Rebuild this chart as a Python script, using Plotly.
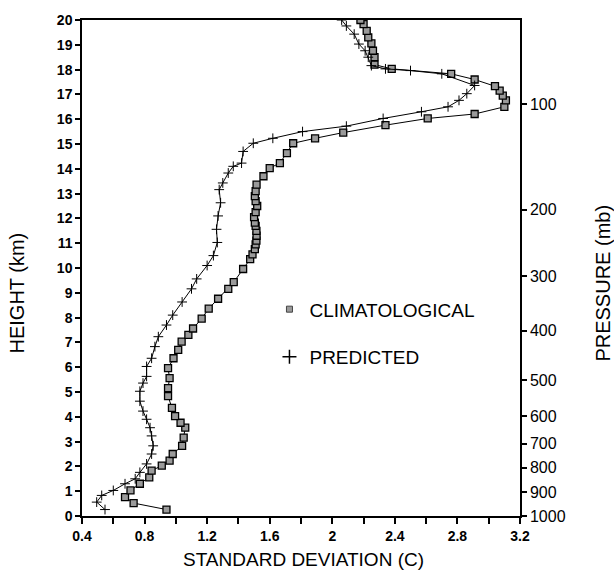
import plotly.graph_objects as go

# Climatological standard deviation (C) vs height (km)
clim_height = [0.26, 0.52, 0.76, 1.03, 1.30, 1.56, 1.83, 2.03, 2.23, 2.50, 2.83, 3.16, 3.56, 3.76,
               4.03, 4.36, 4.83, 5.16, 5.56, 5.96, 6.36, 6.70, 7.03, 7.30, 7.56, 7.96, 8.36, 8.76,
               9.16, 9.43, 9.96, 10.36, 10.55, 10.76, 10.95, 11.10, 11.30, 11.50, 11.70, 11.83,
               12.05, 12.25, 12.50, 12.70, 12.90, 13.10, 13.36, 13.70, 14.03, 14.23, 14.63, 15.03,
               15.23, 15.46, 15.76, 16.03, 16.21, 16.50, 16.76, 16.95, 17.15, 17.33, 17.60, 17.83,
               18.03, 18.20, 18.50, 18.76, 19.06, 19.30, 19.56, 19.83, 20.0]
clim_sd = [0.94, 0.73, 0.675, 0.71, 0.77, 0.83, 0.845, 0.91, 0.96, 0.98, 1.04, 1.05, 1.06, 1.03,
           0.995, 0.975, 0.95, 0.95, 0.96, 0.95, 0.985, 1.015, 1.037, 1.08, 1.11, 1.165, 1.21, 1.27,
           1.335, 1.37, 1.43, 1.475, 1.49, 1.505, 1.51, 1.515, 1.516, 1.515, 1.51, 1.505,
           1.50, 1.51, 1.52, 1.51, 1.505, 1.51, 1.516, 1.56, 1.60, 1.665, 1.71, 1.75,
           1.89, 2.07, 2.34, 2.61, 2.91, 3.10, 3.11, 3.09, 3.07, 3.04, 2.91, 2.76,
           2.38, 2.27, 2.27, 2.26, 2.25, 2.23, 2.22, 2.20, 2.18]

# Predicted standard deviation (C) vs height (km)
pred_height = [0.26, 0.56, 0.83, 1.03, 1.30, 1.50, 1.76, 2.10, 2.50, 2.83, 3.23, 3.56, 3.90, 4.23,
               4.63, 5.03, 5.36, 5.63, 6.03, 6.36, 6.83, 7.23, 7.70, 8.10, 8.63, 9.16, 9.56, 10.10,
               10.50, 11.03, 11.56, 12.10, 12.63, 13.16, 13.43, 13.83, 14.10, 14.23, 14.70, 15.03,
               15.23, 15.50, 15.72, 16.03, 16.30, 16.50, 16.76, 17.03, 17.36, 17.83, 17.96, 18.03,
               18.16, 18.50, 18.76, 19.03, 19.43, 19.76, 20.0]
pred_sd = [0.547, 0.494, 0.526, 0.60, 0.675, 0.74, 0.77, 0.813, 0.845, 0.855, 0.845, 0.835, 0.813, 0.79,
           0.77, 0.77, 0.79, 0.813, 0.813, 0.845, 0.866, 0.888, 0.94, 0.98, 1.04, 1.10, 1.133, 1.20,
           1.24, 1.265, 1.26, 1.27, 1.286, 1.277, 1.30, 1.335, 1.367, 1.42, 1.43, 1.495,
           1.62, 1.81, 2.09, 2.325, 2.57, 2.74, 2.81, 2.86, 2.91, 2.70, 2.50, 2.34,
           2.25, 2.23, 2.21, 2.17, 2.14, 2.09, 2.06]

# Right axis: pressure levels (mb) and their heights (km)
pressure_labels = ["100", "200", "300", "400", "500", "600", "700", "800", "900", "1000"]
pressure_heights = [16.6, 12.35, 9.67, 7.47, 5.47, 4.03, 2.91, 1.95, 0.95, 0.0]

x_ticks = [0.4, 0.8, 1.2, 1.6, 2.0, 2.4, 2.8, 3.2]
x_tick_text = ["0.4", "0.8", "1.2", "1.6", "2", "2.4", "2.8", "3.2"]
y_ticks = list(range(0, 21))

fig = go.Figure()

fig.add_trace(go.Scatter(
    x=clim_sd, y=clim_height, mode="lines+markers", showlegend=False,
    line=dict(color="black", width=1),
    marker=dict(symbol="square", size=7, color="#9a9a9a", line=dict(color="black", width=1.3)),
))
fig.add_trace(go.Scatter(
    x=pred_sd, y=pred_height, mode="lines+markers", showlegend=False,
    line=dict(color="black", width=1),
    marker=dict(symbol="cross-thin", size=7, line=dict(color="black", width=1)),
))
# legend entries (markers only)
fig.add_trace(go.Scatter(
    x=[None], y=[None], mode="markers", name="CLIMATOLOGICAL", legendgroup="a",
    marker=dict(symbol="square", size=6, color="#9a9a9a", line=dict(color="#444", width=1)),
))
fig.add_trace(go.Scatter(
    x=[None], y=[None], mode="markers", name="PREDICTED", legendgroup="b",
    marker=dict(symbol="cross-thin", size=10, line=dict(color="black", width=1.5)),
))
# invisible trace for the pressure axis
fig.add_trace(go.Scatter(
    x=[None], y=[None], yaxis="y2", mode="markers", showlegend=False, hoverinfo="skip",
))

font_family = "Liberation Sans, Arial, sans-serif"
tick_font = dict(size=14, family=font_family, weight="bold")

fig.update_layout(
    width=614, height=583,
    margin=dict(l=82, r=94, t=16, b=67),
    paper_bgcolor="white", plot_bgcolor="white",
    font=dict(family=font_family, color="black"),
    xaxis=dict(
        range=[0.4, 3.2], tickvals=x_ticks, ticktext=x_tick_text,
        ticks="outside", ticklen=6, tickwidth=1.5, tickcolor="black",
        minor=dict(dtick=0.2, tick0=0.4, ticks="outside", ticklen=6, tickwidth=1.5, tickcolor="black"),
        showline=True, linecolor="black", linewidth=1.5, mirror=True,
        showgrid=False, zeroline=False, tickfont=tick_font,
    ),
    yaxis=dict(
        range=[0, 20], tickvals=y_ticks,
        ticks="outside", ticklen=5, tickwidth=1.5, tickcolor="black",
        showline=True, linecolor="black", linewidth=1.5,
        showgrid=False, zeroline=False, tickfont=tick_font,
    ),
    yaxis2=dict(
        range=[0, 20], overlaying="y", side="right",
        tickvals=pressure_heights, ticktext=pressure_labels,
        ticks="outside", ticklen=5, tickwidth=1.5, tickcolor="black",
        showline=True, linecolor="black", linewidth=1.5,
        showgrid=False, zeroline=False,
        tickfont=dict(size=16, family=font_family),
    ),
    legend=dict(
        x=0.428, y=0.455, xanchor="left", yanchor="top",
        font=dict(size=19), bgcolor="rgba(0,0,0,0)",
        traceorder="grouped", tracegroupgap=20, itemwidth=30,
    ),
    annotations=[
        dict(text="HEIGHT (km)", textangle=-90, xref="paper", yref="paper",
             x=-0.148, y=0.449, xanchor="center", yanchor="middle", showarrow=False,
             font=dict(size=20)),
        dict(text="PRESSURE (mb)", textangle=-90, xref="paper", yref="paper",
             x=1.19, y=0.469, xanchor="center", yanchor="middle", showarrow=False,
             font=dict(size=20)),
        dict(text="STANDARD DEVIATION (C)", xref="paper", yref="paper",
             x=0.505, y=-0.088, xanchor="center", yanchor="middle", showarrow=False,
             font=dict(size=19)),
    ],
)

fig.write_html("out.html")
